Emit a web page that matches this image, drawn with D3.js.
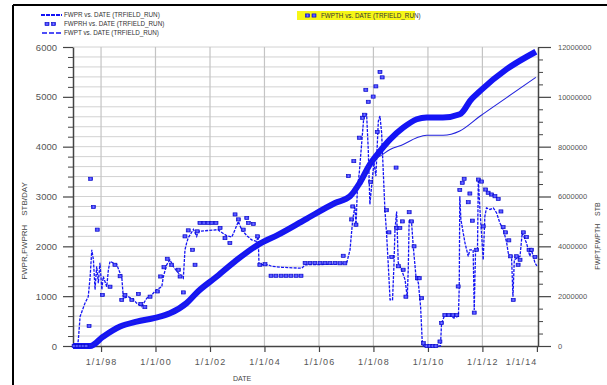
<!DOCTYPE html>
<html>
<head>
<meta charset="utf-8">
<script src="https://cdn.jsdelivr.net/npm/d3@7"></script>
<style>
  body { margin: 0; background: #fff; }
  svg { display: block; font-family: "Liberation Sans", Arial, sans-serif; }
</style>
</head>
<body>
<svg id="chart" width="607" height="385"></svg>
<script>
// dates are decimal years
// FWPR - simulated water production rate (STB/DAY), dashed line
const fwprYear = [1996.97,1997.14,1997.17,1997.23,1997.41,1997.53,1997.60,1997.66,1997.72,1997.78,1997.84,1997.90,1997.96,
  1998.03,1998.08,1998.21,1998.27,1998.33,1998.58,1998.70,1998.76,1998.82,1999.00,1999.19,1999.31,1999.49,1999.68,1999.86,
  2000.04,2000.23,2000.29,2000.41,2000.53,2000.65,2000.78,2000.96,2001.02,2001.08,2001.14,2001.20,2001.39,2001.51,2001.56,
  2002.29,2002.37,2002.62,2002.80,2002.92,2003.04,2003.16,2003.35,2003.53,2003.71,2003.77,2003.80,2004.14,2004.26,2004.63,
  2005.37,2005.49,2006.59,2007.02,2007.14,2007.24,2007.32,2007.36,2007.41,2007.48,2007.57,2007.65,2007.75,2007.81,2007.87,
  2007.97,2008.02,2008.09,2008.18,2008.24,2008.30,2008.42,2008.48,2008.54,2008.61,2008.70,2008.75,2008.79,2008.85,2008.91,
  2009.03,2009.16,2009.22,2009.24,2009.28,2009.31,2009.40,2009.46,2009.56,2009.65,2009.73,2009.79,2009.83,2010.46,2010.50,
  2010.62,2010.80,2010.95,2011.12,2011.15,2011.17,2011.21,2011.36,2011.48,2011.54,2011.66,2011.70,2011.75,2011.82,2011.85,
  2011.91,2012.03,2012.09,2012.15,2012.28,2012.40,2012.52,2012.64,2012.77,2012.89,2012.95,2013.07,2013.12,2013.17,2013.38,
  2013.46,2013.62,2013.74,2013.80,2013.93,2014.00];
const fwprValue = [0,0,150,590,860,990,1390,1930,1730,1130,1600,1260,1670,
  1130,1395,1190,1530,1700,1630,1460,1395,960,990,930,860,790,960,1025,
  1130,1190,1395,1630,1730,1600,1500,1395,1360,1930,2065,2170,2340,2200,2300,
  2335,2300,2210,2185,2335,2500,2335,2215,2130,2100,2200,1630,1630,1600,1580,
  1560,1630,1640,1670,1930,2540,2800,2400,3140,3475,4080,4615,4650,3945,2840,
  3410,3680,3410,4515,4615,4280,2740,2270,1665,925,925,1600,2335,2700,1665,
  1530,1330,1060,960,1600,2540,2470,2000,1395,1260,790,90,0,0,460,
  620,620,560,600,1195,3005,2540,2070,1800,1930,1930,725,1930,1930,3340,
  2740,1730,2600,2770,2740,2770,2670,2470,2335,2070,1860,1760,990,1730,1800,
  2270,2065,1800,1930,1665,1610];

// FWPRH - historical water production rate (STB/DAY), square markers
const fwprhYear = [1997.01,1997.12,1997.23,1997.34,1997.45,1997.56,1997.62,1997.72,1997.86,1998.05,1998.33,1998.51,1998.70,
  1998.76,1998.88,1999.13,1999.37,1999.46,1999.61,1999.80,2000.07,2000.19,2000.31,2000.43,2000.59,2000.84,2000.90,2001.02,
  2001.08,2001.20,2001.36,2001.45,2001.53,2001.63,2001.78,2001.93,2002.07,2002.22,2002.37,2002.55,2002.73,2002.92,2003.04,
  2003.22,2003.35,2003.41,2003.59,2003.75,2003.83,2004.02,2004.24,2004.42,2004.61,2004.79,2004.97,2005.16,2005.34,2005.49,
  2005.67,2005.85,2006.04,2006.22,2006.40,2006.59,2006.77,2006.95,2006.89,2007.20,2007.24,2007.36,2007.08,2007.28,2007.48,
  2007.60,2007.67,2007.72,2007.81,2007.99,2008.09,2008.24,2008.32,2007.90,2008.14,2008.83,2008.48,2008.57,2008.67,2008.85,
  2008.97,2009.06,2008.91,2009.09,2009.19,2009.31,2009.40,2009.49,2009.61,2009.68,2009.77,2009.83,2009.96,2010.07,2010.18,
  2010.29,2010.44,2010.50,2010.62,2010.77,2010.92,2011.06,2011.11,2011.17,2011.26,2011.33,2011.48,2011.54,2011.63,2011.70,
  2011.79,2011.85,2011.97,2012.03,2012.12,2012.21,2012.34,2012.46,2012.58,2012.68,2012.76,2012.85,2012.97,2013.03,2013.13,
  2013.25,2013.31,2013.38,2013.50,2013.62,2013.71,2013.80,2013.93];
const fwprhValue = [0,0,0,0,0,400,3355,2790,2335,1025,1190,1630,1400,
  925,1025,925,1045,845,780,990,1095,1395,1580,1750,1630,1530,1395,1075,
  2200,2320,1930,1630,2300,2470,2470,2470,2470,2470,2370,2165,2065,2640,2540,
  2335,2570,2470,2450,2200,1630,1640,1410,1410,1410,1410,1410,1410,1410,1665,
  1665,1665,1665,1665,1665,1665,1660,1660,1810,2540,2800,2435,3410,3710,4180,
  4580,4640,5140,4900,5005,5210,5500,5390,3290,4295,3580,2725,2280,1785,2370,
  2370,2500,1600,1530,990,2685,2500,2000,1360,1360,960,55,0,0,0,
  0,90,460,620,620,620,620,1195,3130,3275,3355,2885,3060,2515,670,
  1930,3340,3300,2400,3140,3075,3040,3005,2950,2700,2385,2280,2120,1800,925,
  1800,1630,1730,2280,2185,1930,1930,1785];

// FWPTH - historical cumulative water (STB), thick marker trail
const fwpthYear = [1996.97,1997.60,1998.07,1998.70,1999.31,1999.98,2000.53,2001.14,2001.56,2002.18,2002.92,2003.77,2004.51,
  2005.49,2006.59,2007.14,2007.50,2007.87,2008.24,2008.61,2009.09,2009.59,2009.95,2010.55,2011.17,2011.30,2011.54,2011.92,
  2012.89,2013.96];
const fwpthValue = [0,0,370000,780000,980000,1130000,1310000,1720000,2190000,2730000,3400000,4070000,4470000,
  5070000,5740000,6010000,6550000,7290000,7820000,8290000,8760000,9100000,9170000,9170000,9300000,9430000,9830000,10240000,
  11110000,11810000];

// FWPT - simulated cumulative water (STB), thin line
const fwptYear = [1996.97,1997.60,1998.07,1998.70,1999.31,1999.98,2000.53,2001.14,2001.56,2002.18,2002.92,2003.77,2004.51,
  2005.49,2006.59,2007.14,2007.50,2007.87,2008.12,2008.24,2008.61,2009.09,2009.59,2009.95,2010.56,2011.17,2011.92,2012.89,
  2013.96];
const fwptValue = [0,0,370000,780000,980000,1130000,1310000,1720000,2190000,2730000,3400000,4070000,4470000,
  5070000,5740000,6010000,6550000,7290000,7550000,7620000,7890000,8090000,8360000,8460000,8460000,8630000,9230000,9970000,
  10780000];

const xTickYears = [1998, 2000, 2002, 2004, 2006, 2008, 2010, 2012, 2014];
const leftTicks = [0, 1000, 2000, 3000, 4000, 5000, 6000];
const rightTicks = [0, 2000000, 4000000, 6000000, 8000000, 10000000, 12000000];

const legendLeft = ["FWPR vs. DATE (TRFIELD_RUN)", "FWPRH vs. DATE (TRFIELD_RUN)", "FWPT vs. DATE (TRFIELD_RUN)"];
const legendRight = "FWPTH vs. DATE (TRFIELD_RUN)";

function yd(v) {
  const y = Math.floor(v);
  const s = Date.UTC(y, 0, 1), e = Date.UTC(y + 1, 0, 1);
  return new Date(s + (v - y) * (e - s));
}
function pairs(xs, ys) { return xs.map((d, i) => ({ date: yd(d), v: ys[i] })); }

const blue = "#1414f5";
const plotL = 73, plotR = 538, plotT = 47, plotB = 346;

const svg = d3.select("#chart");

// outer frame (cropped screenshot: only top and left edges visible)
svg.append("line").attr("x1", 13).attr("x2", 607).attr("y1", 5).attr("y2", 5)
  .attr("stroke", "#000").attr("stroke-width", 2);
svg.append("line").attr("x1", 13).attr("x2", 13).attr("y1", 5).attr("y2", 385)
  .attr("stroke", "#000").attr("stroke-width", 2);

const x = d3.scaleUtc().domain([yd(1996.97), yd(2014.04)]).range([plotL, plotR]);
const yL = d3.scaleLinear().domain([0, 6000]).range([plotB, plotT]);
const yR = d3.scaleLinear().domain([0, 12000000]).range([plotB, plotT]);

// grid
svg.append("g").selectAll("line").data(d3.range(200, 6001, 200)).enter().append("line")
  .attr("x1", plotL).attr("x2", plotR).attr("y1", d => yL(d)).attr("y2", d => yL(d))
  .attr("stroke", "#d2d2d2").attr("stroke-width", 1);
svg.append("g").selectAll("line").data(xTickYears.slice(0, -1)).enter().append("line")
  .attr("x1", d => x(yd(d))).attr("x2", d => x(yd(d))).attr("y1", plotT).attr("y2", plotB)
  .attr("stroke", "#c4c4c4").attr("stroke-width", 1.2);

// axes
const fmtDate = d3.utcFormat("%-m/%-d/%y");
const gx = svg.append("g").attr("transform", "translate(0," + plotB + ")")
  .call(d3.axisBottom(x).tickValues(xTickYears.map(yd)).tickSize(6).tickSizeOuter(0).tickFormat(fmtDate));
gx.select(".domain").attr("stroke", "#444").attr("stroke-width", 1.5);
gx.selectAll(".tick line").attr("stroke", "#444").attr("stroke-width", 1.2);
gx.selectAll("text").attr("fill", "#555").style("font-size", "9px").style("letter-spacing", "1.1px").attr("dy", "1.15em");
gx.selectAll(".tick").filter(d => +d === +yd(2014)).select("text").attr("text-anchor", "end").attr("dx", "0");

const gl = svg.append("g").attr("transform", "translate(" + plotL + ",0)")
  .call(d3.axisLeft(yL).tickValues(leftTicks).tickSize(10).tickSizeOuter(0).tickPadding(6).tickFormat(d3.format("d")));
gl.select(".domain").attr("stroke", "#444").attr("stroke-width", 1.5);
gl.selectAll(".tick line").attr("stroke", "#444").attr("stroke-width", 1.2);
gl.selectAll("text").attr("fill", "#555").style("font-size", "9.5px");
svg.append("g").attr("transform", "translate(" + plotL + ",0)")
  .call(d3.axisLeft(yL).tickValues(d3.range(200, 6000, 200).filter(v => v % 1000)).tickSize(5).tickFormat(""))
  .call(g => g.select(".domain").remove())
  .selectAll("line").attr("stroke", "#444");

const gr = svg.append("g").attr("transform", "translate(" + plotR + ",0)")
  .call(d3.axisRight(yR).tickValues(rightTicks).tickSize(13).tickSizeOuter(0).tickPadding(7).tickFormat(d3.format("d")));
gr.select(".domain").attr("stroke", "#444").attr("stroke-width", 1.5);
gr.selectAll(".tick line").attr("stroke", "#444").attr("stroke-width", 1.2);
gr.selectAll("text").attr("fill", "#555").style("font-size", "7.5px");
svg.append("g").attr("transform", "translate(" + plotR + ",0)")
  .call(d3.axisRight(yR).tickValues(d3.range(500000, 12000000, 500000).filter(v => v % 2000000)).tickSize(5).tickFormat(""))
  .call(g => g.select(".domain").remove())
  .selectAll("line").attr("stroke", "#444");

// axis titles
svg.append("text").attr("transform", "translate(27,231) rotate(-90)").attr("text-anchor", "middle")
  .attr("fill", "#444").style("font-size", "8px").attr("xml:space", "preserve").text("FWPR,FWPRH    STB/DAY");
svg.append("text").attr("transform", "translate(600,236) rotate(-90)").attr("text-anchor", "middle")
  .attr("fill", "#444").style("font-size", "7px").attr("xml:space", "preserve").text("FWPT,FWPTH    STB");
svg.append("text").attr("x", 242).attr("y", 381).attr("text-anchor", "middle")
  .attr("fill", "#444").style("font-size", "7px").text("DATE");

// series
const lineL = d3.line().x(d => x(d.date)).y(d => yL(d.v));
const lineR = d3.line().x(d => x(d.date)).y(d => yR(d.v)).curve(d3.curveMonotoneX);

svg.append("path").datum(pairs(fwpthYear, fwpthValue)).attr("d", lineR)
  .attr("fill", "none").attr("stroke", blue).attr("stroke-width", 6).attr("stroke-linejoin", "round");

svg.append("path").datum(pairs(fwptYear, fwptValue)).attr("d", lineR)
  .attr("fill", "none").attr("stroke", "#2222dd").attr("stroke-width", 1.1);

svg.append("path").datum(pairs(fwprYear, fwprValue)).attr("d", lineL)
  .attr("fill", "none").attr("stroke", blue).attr("stroke-width", 1.3).attr("stroke-dasharray", "3,1.2");

function marker(g, cx, cy) {
  g.append("rect").attr("x", cx - 2).attr("y", cy - 1.6).attr("width", 4).attr("height", 3.2)
    .attr("fill", "#4040ff").attr("stroke", "#0000c0").attr("stroke-width", 0.6);
  g.append("line").attr("x1", cx).attr("x2", cx).attr("y1", cy - 1.1).attr("y2", cy + 1.1)
    .attr("stroke", "#a0a0ff").attr("stroke-width", 0.6);
}
const gm = svg.append("g");
pairs(fwprhYear, fwprhValue).forEach(d => marker(gm, x(d.date), yL(d.v)));

// legend
const lg = svg.append("g").style("font-size", "6.3px").attr("fill", "#333");
lg.append("line").attr("x1", 41).attr("x2", 62).attr("y1", 15).attr("y2", 15)
  .attr("stroke", blue).attr("stroke-width", 1.8).attr("stroke-dasharray", "4,1");
marker(lg, 47, 24); marker(lg, 53.5, 24);
lg.append("line").attr("x1", 42).attr("x2", 61).attr("y1", 33).attr("y2", 33)
  .attr("stroke", blue).attr("stroke-width", 1.4).attr("stroke-dasharray", "5,2");
legendLeft.forEach((t, i) => lg.append("text").attr("x", 64).attr("y", 17.3 + i * 8.8).text(t));

svg.append("rect").attr("x", 297).attr("y", 11).attr("width", 118).attr("height", 9).attr("fill", "#f6f617");
marker(svg, 307.5, 15.5); marker(svg, 314, 15.5);
svg.append("text").attr("x", 321).attr("y", 17.8).style("font-size", "6.3px").attr("fill", "#333").text(legendRight);
</script>
</body>
</html>
